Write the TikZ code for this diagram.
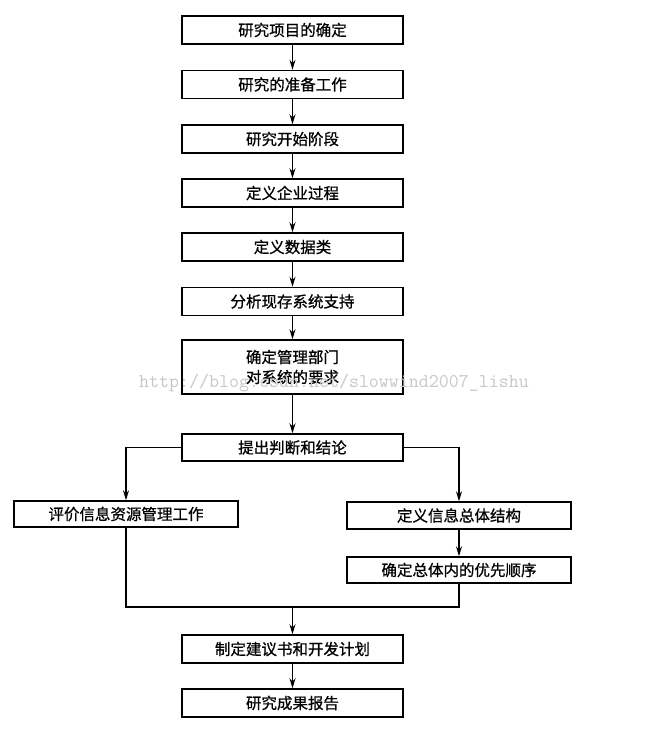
\documentclass[tikz,border=0pt]{standalone}
\usepackage{fontspec}
\newfontfamily\cjk{Noto Sans CJK SC}[FakeBold=0.8]
\newfontfamily\markfont{Latin Modern Mono}
\usetikzlibrary{arrows.meta,positioning,calc}

\begin{document}
\begin{tikzpicture}[x=1pt,y=-1pt,
    stepbox/.style={draw,line width=1.5pt,rectangle,minimum width=221pt,minimum height=28pt,inner sep=0pt,font=\cjk\fontsize{15.5}{20}\selectfont,align=center},
    sidebox/.style={stepbox,minimum width=224pt},
    arr/.style={line width=1.2pt,-{Stealth[length=10pt,width=6pt]}},
    link/.style={line width=1.2pt}]
    \useasboundingbox (0,0) rectangle (653,748);

    \node[stepbox] (topic)    at (292.5,30)    {研究项目的确定};
    \node[stepbox] (prepare)  at (292.5,84.5)  {研究的准备工作};
    \node[stepbox] (start)    at (292.5,139)   {研究开始阶段};
    \node[stepbox] (process)  at (292.5,193)   {定义企业过程};
    \node[stepbox] (dataclass) at (292.5,247)  {定义数据类};
    \node[stepbox] (support)  at (292.5,301.5) {分析现存系统支持};
    \node[stepbox,minimum height=54pt] (demand) at (292.5,367) {确定管理部门\\对系统的要求};
    \node[stepbox,minimum height=27pt] (judge) at (292.5,447.5) {提出判断和结论};

    \node[sidebox,minimum height=26pt] (evalwork) at (126,514)   {评价信息资源管理工作};
    \node[sidebox,minimum height=27pt] (infoarch) at (459,515.5) {定义信息总体结构};
    \node[sidebox,minimum height=26pt] (priority) at (459,570)   {确定总体内的优先顺序};

    \node[stepbox] (proposal) at (292.5,649) {制定建议书和开发计划};
    \node[stepbox] (report)   at (292.5,703) {研究成果报告};

    % main chain
    \draw[arr] (topic) -- (prepare);
    \draw[arr] (prepare) -- (start);
    \draw[arr] (start) -- (process);
    \draw[arr] (process) -- (dataclass);
    \draw[arr] (dataclass) -- (support);
    \draw[arr] (support) -- (demand);
    \draw[arr] (demand) -- (judge);

    % branches
    \draw[arr] (judge.west) -| (evalwork.north);
    \draw[arr] (judge.east) -| (infoarch.north);
    \draw[arr] (infoarch) -- (priority);

    % join again
    \coordinate (joint) at (292.5,607);
    \draw[link] (evalwork.south) |- (joint) -| (priority.south);
    \draw[arr] (joint) -- (proposal);
    \draw[arr] (proposal) -- (report);

    \node[text=black!22,font=\markfont\fontsize{19.4}{21}\selectfont,anchor=west,inner sep=0pt] (mark) at (139,383) {http://blog.csdn.net/slowwind2007\_lishu};
\end{tikzpicture}
\end{document}
